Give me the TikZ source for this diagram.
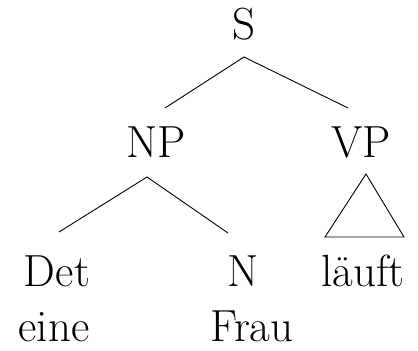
\documentclass[tikz,border=0pt]{standalone}
\begin{document}
\begin{tikzpicture}[x=1pt,y=-1pt,
  lab/.style={anchor=base,inner sep=0pt,font=\fontsize{45}{54}\selectfont},
  edge/.style={line width=0.9pt,black}]
\useasboundingbox (0,0) rectangle (418,351);
\node[lab] (S) at (244,39) {S};
\node[lab] (NP) at (156,157) {NP};
\node[lab] (VP) at (361,157) {VP};
\node[lab] (Det) at (57,286) {Det};
\node[lab] (N) at (243,286) {N};
\node[lab] (lf) at (363,286) {läuft};
\node[lab] (eine) at (54,341) {eine};
\node[lab] (Frau) at (252,341) {Frau};
% connector end points
\coordinate (Sdown) at (244,57);
\coordinate (NPup) at (165,108);
\coordinate (VPup) at (348,108);
\coordinate (NPdown) at (147,177);
\coordinate (Detup) at (59,232);
\coordinate (Nup) at (228,233);
\coordinate (Ttop) at (366,174);
\coordinate (Tl) at (325,237);
\coordinate (Tr) at (404,237);
\draw[edge] (NPup) -- (Sdown) -- (VPup);
\draw[edge] (Detup) -- (NPdown) -- (Nup);
\draw[edge,line join=miter] (Ttop) -- (Tl) -- (Tr) -- cycle;
\end{tikzpicture}
\end{document}
